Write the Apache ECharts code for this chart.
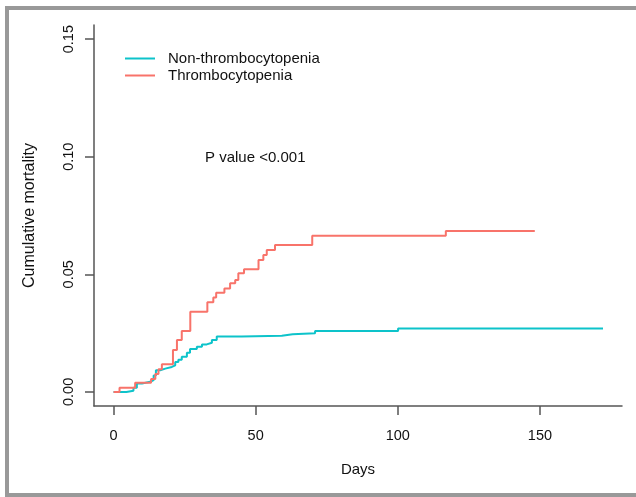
<!DOCTYPE html>
<html>
<head>
<meta charset="utf-8">
<script src="https://cdn.jsdelivr.net/npm/echarts@6/dist/echarts.min.js"></script>
<style>
  html, body { margin: 0; padding: 0; background: #fff; }
  #chart { width: 636px; height: 497px; }
</style>
</head>
<body>
<div id="chart"></div>
<script>
// 非血小板减少组 (teal)
var daysNon = [0, 4.5, 7.0, 8.2, 10.0, 12.9, 14.1, 14.9, 16.4, 18.2, 20.5, 21.7, 22.8, 24.0, 25.8, 26.9, 29.3, 31.1, 32.8, 34.6, 36.3, 45.1, 59.2, 63.0, 70.9, 100.1, 172.2];
var mortNon = [0, 0.0005, 0.0018, 0.0036, 0.0043, 0.0050, 0.0070, 0.0092, 0.0099, 0.0106, 0.0113, 0.0127, 0.0137, 0.0149, 0.0166, 0.0182, 0.0192, 0.0202, 0.0209, 0.0221, 0.0235, 0.0239, 0.0245, 0.0249, 0.0259, 0.0269, 0.0269];

// 血小板减少组 (red)
var daysThr = [0, 2.1, 7.6, 13.2, 14.7, 15.8, 17.0, 20.9, 22.3, 24.0, 27.0, 33.0, 35.1, 36.1, 39.0, 41.0, 42.8, 43.9, 45.9, 51.0, 52.7, 53.9, 56.8, 69.9, 116.9, 148.2];
var mortThr = [0, 0.0018, 0.0039, 0.0055, 0.0076, 0.0096, 0.0117, 0.0178, 0.0221, 0.0259, 0.0341, 0.0381, 0.0401, 0.0422, 0.0440, 0.0462, 0.0476, 0.0504, 0.0521, 0.0561, 0.0582, 0.0603, 0.0625, 0.0664, 0.0684, 0.0684];

var xTicks = [0, 50, 100, 150];
var yTicks = [0, 0.05, 0.10, 0.15];

function pairs(xs, ys) {
  return xs.map(function (x, i) { return [x, ys[i]]; });
}

var chart = echarts.init(document.getElementById("chart"));
var font = "Liberation Sans";

var option = {
  backgroundColor: "#fff",
  animation: false,
  grid: { left: 94, right: 14, top: 25, bottom: 91 },
  legend: {
    orient: "vertical",
    left: 120,
    top: 46,
    icon: "rect",
    itemWidth: 30,
    itemHeight: 2,
    itemGap: 2,
    textStyle: { fontFamily: font, fontSize: 15, color: "#111", padding: [0, 0, 0, 8] },
    data: ["Non-thrombocytopenia", "Thrombocytopenia"]
  },
  xAxis: {
    type: "value",
    min: -6.88,
    max: 178.88,
    name: "Days",
    nameLocation: "middle",
    nameGap: 56,
    nameTextStyle: { fontFamily: font, fontSize: 15, color: "#111" },
    splitLine: { show: false },
    axisLine: { onZero: false, lineStyle: { color: "#555", width: 1.5 } },
    axisTick: { customValues: xTicks, length: 9, lineStyle: { color: "#555", width: 1.5 } },
    axisLabel: {
      customValues: xTicks,
      margin: 22,
      fontFamily: font,
      fontSize: 14.5,
      color: "#111"
    }
  },
  yAxis: {
    type: "value",
    min: -0.006,
    max: 0.156,
    name: "Cumulative mortality",
    nameLocation: "middle",
    nameGap: 56,
    nameTextStyle: { fontFamily: font, fontSize: 16, color: "#111" },
    splitLine: { show: false },
    axisLine: { show: true, onZero: false, lineStyle: { color: "#555", width: 1.5 } },
    axisTick: { show: true, customValues: yTicks, length: 9, lineStyle: { color: "#555", width: 1.5 } },
    axisLabel: {
      customValues: yTicks,
      rotate: 90,
      margin: 18,
      fontFamily: font,
      fontSize: 14.5,
      color: "#111",
      formatter: function (v) { return v.toFixed(2); }
    }
  },
  graphic: [
    {
      type: "rect",
      shape: { x: 7, y: 8, width: 700, height: 487 },
      style: { fill: "none", stroke: "#999", lineWidth: 4 },
      silent: true
    },
    {
      type: "text",
      left: 205,
      top: 150,
      style: { text: "P value <0.001", fontFamily: font, fontSize: 15, fill: "#111" }
    }
  ],
  series: [
    {
      name: "Non-thrombocytopenia",
      type: "line",
      step: "end",
      symbol: "none",
      data: pairs(daysNon, mortNon),
      lineStyle: { color: "#0DC3CA", width: 2 },
      itemStyle: { color: "#0DC3CA" }
    },
    {
      name: "Thrombocytopenia",
      type: "line",
      step: "end",
      symbol: "none",
      data: pairs(daysThr, mortThr),
      lineStyle: { color: "#F8736A", width: 2 },
      itemStyle: { color: "#F8736A" }
    }
  ]
};

chart.setOption(option);
</script>
</body>
</html>
